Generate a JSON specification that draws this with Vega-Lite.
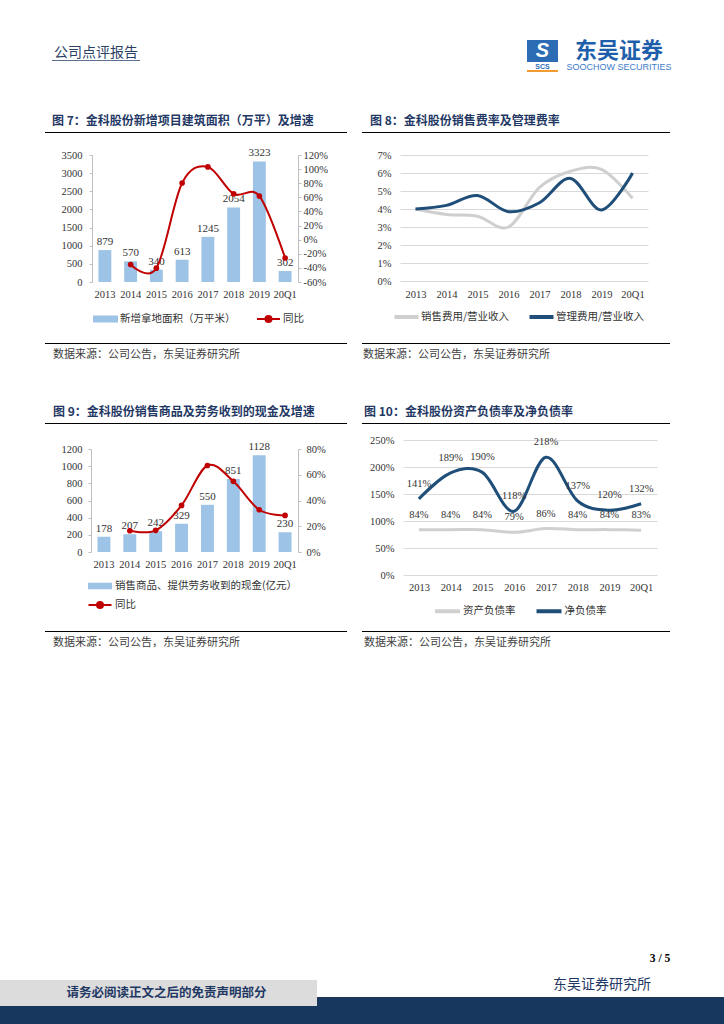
{
  "$schema": "https://vega.github.io/schema/vega-lite/v6.json",
  "background": "#FFFFFF",
  "padding": 0,
  "autosize": {"type": "pad"},
  "spacing": 0,
  "resolve": {"scale": {"color": "independent", "fill": "independent", "stroke": "independent"}},
  "config": {
    "view": {"stroke": null},
    "concat": {"spacing": 0},
    "font": "Liberation Serif, Noto Sans CJK SC",
    "axis": {"labelFont": "Liberation Serif, Noto Sans CJK SC", "labelFontSize": 10.5, "labelColor": "#333333", "tickColor": "#BFBFBF", "domainColor": "#BFBFBF", "gridColor": "#D9D9D9", "labelOverlap": false},
    "legend": {"labelFont": "Noto Sans CJK SC", "labelFontSize": 10.5, "labelColor": "#333333", "labelLimit": 400, "symbolOpacity": 1}
  },
  "vconcat": [
    {"width": 724, "height": 40, "view": {"fill": "#FFFFFF"}, "data": {"values": []}, "mark": "rule", "encoding": {}},
    {"spacing": 0, "hconcat": [
      {"width": 52, "height": 1, "data": {"values": []}, "mark": "rule", "encoding": {}},
      {"spacing": 0, "vconcat": [
        {"width": 88, "height": 5, "data": {"values": []}, "mark": "rule", "encoding": {}},
        {"width": 88, "height": 15, "data": {"values": [{"t": "公司点评报告"}]}, "mark": {"type": "text", "font": "Noto Sans CJK SC", "fontSize": 14, "color": "#2B3F66"}, "encoding": {"text": {"field": "t", "type": "nominal"}}},
        {"width": 88, "height": 1, "view": {"fill": "#5F6F8F"}, "data": {"values": []}, "mark": "rule", "encoding": {}}
      ]},
      {"width": 387, "height": 1, "data": {"values": []}, "mark": "rule", "encoding": {}},
      {"spacing": 0, "vconcat": [
        {"width": 31, "height": 22, "view": {"fill": "#2B6CB5"}, "data": {"values": [{"t": "S"}]}, "mark": {"type": "text", "font": "Liberation Sans", "fontSize": 20, "fontWeight": "bold", "fontStyle": "italic", "color": "#FFFFFF"}, "encoding": {"text": {"field": "t", "type": "nominal"}}},
        {"width": 31, "height": 7, "data": {"values": [{"t": "SCS"}]}, "mark": {"type": "text", "font": "Liberation Sans", "fontSize": 7, "fontWeight": "bold", "color": "#2B6CB5"}, "encoding": {"text": {"field": "t", "type": "nominal"}}},
        {"width": 31, "height": 2, "view": {"fill": "#F29B30"}, "data": {"values": []}, "mark": "rule", "encoding": {}}
      ]},
      {"width": 5, "height": 1, "data": {"values": []}, "mark": "rule", "encoding": {}},
      {"spacing": 0, "vconcat": [
        {"width": 112, "height": 22, "data": {"values": [{"t": "东吴证券"}]}, "mark": {"type": "text", "font": "Noto Sans CJK SC", "fontSize": 22, "fontWeight": "bold", "color": "#1E5EAA"}, "encoding": {"text": {"field": "t", "type": "nominal"}}},
        {"width": 112, "height": 10, "data": {"values": [{"t": "SOOCHOW SECURITIES"}]}, "mark": {"type": "text", "font": "Liberation Sans", "fontSize": 9, "color": "#3C7DC8"}, "encoding": {"text": {"field": "t", "type": "nominal"}}}
      ]}
    ]},
    {"width": 1, "height": 43, "data": {"values": []}, "mark": "rule", "encoding": {}},
    {"spacing": 0, "hconcat": [
      {"width": 45, "height": 1, "data": {"values": []}, "mark": "rule", "encoding": {}},
      {"width": 302, "height": 1, "view": {"fill": "#000000"}, "data": {"values": []}, "mark": "rule", "encoding": {},
       "title": {"text": "图 7：金科股份新增项目建筑面积（万平）及增速", "anchor": "start", "dx": 7, "offset": 4, "font": "Noto Sans CJK SC", "fontSize": 12, "fontWeight": "bold", "color": "#1F3864"}},
      {"width": 15, "height": 1, "data": {"values": []}, "mark": "rule", "encoding": {}},
      {"width": 308, "height": 1, "view": {"fill": "#000000"}, "data": {"values": []}, "mark": "rule", "encoding": {},
       "title": {"text": "图 8：金科股份销售费率及管理费率", "anchor": "start", "dx": 8, "offset": 4, "font": "Noto Sans CJK SC", "fontSize": 12, "fontWeight": "bold", "color": "#1F3864"}}
    ]},
    {"width": 1, "height": 14, "data": {"values": []}, "mark": "rule", "encoding": {}},
    {"spacing": 0,
     "resolve": {"scale": {"color": "independent", "fill": "independent", "stroke": "independent"}},
     "hconcat": [
      {"width": 52, "height": 1, "data": {"values": []}, "mark": "rule", "encoding": {}},
      {
        "width": 206, "height": 127,
        "data": {"values": [
          {"year": "2013", "area": 879},
          {"year": "2014", "area": 570, "yoy": -35.2},
          {"year": "2015", "area": 340, "yoy": -40.4},
          {"year": "2016", "area": 613, "yoy": 80.3},
          {"year": "2017", "area": 1245, "yoy": 103.1},
          {"year": "2018", "area": 2054, "yoy": 65.0},
          {"year": "2019", "area": 3323, "yoy": 61.8},
          {"year": "20Q1", "area": 302, "yoy": -26.0}
        ]},
        "encoding": {"x": {"field": "year", "type": "ordinal", "sort": null, "scale": {"type": "band", "paddingInner": 0.5, "paddingOuter": 0.25}, "axis": {"title": null, "labelAngle": 0, "ticks": false, "domain": false, "labelPadding": 7}}},
        "layer": [
          {"layer": [
            {"mark": {"type": "bar", "color": "#9DC3E6"},
             "encoding": {
               "y": {"field": "area", "type": "quantitative", "scale": {"domain": [0, 3500]}, "axis": {"title": null, "values": [0, 500, 1000, 1500, 2000, 2500, 3000, 3500], "tickCount": 20, "format": "d", "labelOverlap": false, "grid": false, "domain": true, "ticks": true, "tickSize": 3, "labelPadding": 7, "minExtent": 40}},
               "fill": {"datum": "新增拿地面积（万平米）", "type": "nominal", "scale": {"range": ["#9DC3E6"]}, "legend": {"orient": "none", "legendX": 3.5, "legendY": 154, "title": null, "symbolType": "M-1.25,-0.35H1.25V0.35H-1.25Z", "symbolSize": 400, "symbolStrokeWidth": 0, "labelOffset": 4.5}}
             }},
            {"mark": {"type": "text", "baseline": "bottom", "dy": -3, "fontSize": 11, "color": "#333333"},
             "encoding": {
               "y": {"field": "area", "type": "quantitative", "scale": {"domain": [0, 3500]}},
               "text": {"field": "area", "type": "quantitative", "format": "d"}
             }}
          ]},
          {"transform": [{"filter": "isValid(datum.yoy)"}],
           "layer": [
            {"mark": {"type": "line", "interpolate": "cardinal", "strokeWidth": 2},
             "encoding": {
               "y": {"field": "yoy", "type": "quantitative", "scale": {"domain": [-60, 120]}, "axis": {"title": null, "orient": "right", "values": [-60, -40, -20, 0, 20, 40, 60, 80, 100, 120], "tickCount": 20, "labelExpr": "datum.value + '%'", "labelOverlap": false, "grid": false, "domain": true, "ticks": true, "tickSize": 3, "labelPadding": 2, "minExtent": 40}},
               "stroke": {"datum": "同比", "type": "nominal", "scale": {"range": ["#C00000"]}, "legend": {"orient": "none", "legendX": 165.5, "legendY": 153, "title": null, "symbolType": "M-1.15,0H1.15M-0.3,0A0.3,0.3,0,1,1,0.3,0A0.3,0.3,0,1,1,-0.3,0Z", "symbolSize": 400, "symbolStrokeWidth": 2, "symbolFillColor": "#C00000", "labelOffset": 3.5}}
             }},
            {"mark": {"type": "point", "filled": true, "size": 32, "color": "#C00000", "opacity": 1},
             "encoding": {"y": {"field": "yoy", "type": "quantitative", "scale": {"domain": [-60, 120]}}}}
          ]}
        ],
        "resolve": {"scale": {"y": "independent"}}
      },
      {"width": 32, "height": 1, "data": {"values": []}, "mark": "rule", "encoding": {}},
      {
        "width": 248, "height": 126,
        "data": {"values": [
          {"year": "2013", "series": "销售费用/营业收入", "value": 0.040},
          {"year": "2014", "series": "销售费用/营业收入", "value": 0.037},
          {"year": "2015", "series": "销售费用/营业收入", "value": 0.036},
          {"year": "2016", "series": "销售费用/营业收入", "value": 0.030},
          {"year": "2017", "series": "销售费用/营业收入", "value": 0.052},
          {"year": "2018", "series": "销售费用/营业收入", "value": 0.061},
          {"year": "2019", "series": "销售费用/营业收入", "value": 0.062},
          {"year": "20Q1", "series": "销售费用/营业收入", "value": 0.046},
          {"year": "2013", "series": "管理费用/营业收入", "value": 0.040},
          {"year": "2014", "series": "管理费用/营业收入", "value": 0.042},
          {"year": "2015", "series": "管理费用/营业收入", "value": 0.0475},
          {"year": "2016", "series": "管理费用/营业收入", "value": 0.0385},
          {"year": "2017", "series": "管理费用/营业收入", "value": 0.0435},
          {"year": "2018", "series": "管理费用/营业收入", "value": 0.057},
          {"year": "2019", "series": "管理费用/营业收入", "value": 0.0395},
          {"year": "20Q1", "series": "管理费用/营业收入", "value": 0.060}
        ]},
        "mark": {"type": "line", "interpolate": "cardinal", "strokeWidth": 3},
        "encoding": {
          "x": {"field": "year", "type": "ordinal", "sort": null, "axis": {"title": null, "labelAngle": 0, "ticks": false, "domain": false, "labelPadding": 8}},
          "y": {"field": "value", "type": "quantitative", "scale": {"domain": [0, 0.07]}, "axis": {"title": null, "values": [0, 0.01, 0.02, 0.03, 0.04, 0.05, 0.06, 0.07], "tickCount": 20, "format": ".0%", "grid": true, "domain": false, "ticks": false, "labelPadding": 9, "minExtent": 30}},
          "color": {"field": "series", "type": "nominal", "sort": null, "scale": {"domain": ["销售费用/营业收入", "管理费用/营业收入"], "range": ["#CFCFCF", "#1F4E79"]}, "legend": {"orient": "none", "legendX": -7.5, "legendY": 148, "direction": "horizontal", "title": null, "symbolType": "stroke", "symbolSize": 576, "symbolStrokeWidth": 4, "labelOffset": 0.5, "columnPadding": 12}}
        }
      },
      {"width": 1, "height": 188, "data": {"values": []}, "mark": "rule", "encoding": {}}
    ]},
    {"spacing": 0, "hconcat": [
      {"width": 45, "height": 1, "data": {"values": []}, "mark": "rule", "encoding": {}},
      {"width": 302, "height": 1, "view": {"fill": "#000000"}, "data": {"values": []}, "mark": "rule", "encoding": {},
       "title": {"text": "数据来源：公司公告，东吴证券研究所", "orient": "bottom", "anchor": "start", "dx": 8, "offset": 5, "font": "Noto Sans CJK SC", "fontSize": 11, "fontWeight": "normal", "color": "#404040"}},
      {"width": 15, "height": 1, "data": {"values": []}, "mark": "rule", "encoding": {}},
      {"width": 308, "height": 1, "view": {"fill": "#000000"}, "data": {"values": []}, "mark": "rule", "encoding": {},
       "title": {"text": "数据来源：公司公告，东吴证券研究所", "orient": "bottom", "anchor": "start", "dx": 1, "offset": 5, "font": "Noto Sans CJK SC", "fontSize": 11, "fontWeight": "normal", "color": "#404040"}},
      {"width": 1, "height": 20, "data": {"values": []}, "mark": "rule", "encoding": {}}
    ]},
    {"width": 1, "height": 43, "data": {"values": []}, "mark": "rule", "encoding": {}},
    {"spacing": 0, "hconcat": [
      {"width": 45, "height": 1, "data": {"values": []}, "mark": "rule", "encoding": {}},
      {"width": 302, "height": 1, "view": {"fill": "#000000"}, "data": {"values": []}, "mark": "rule", "encoding": {},
       "title": {"text": "图 9：金科股份销售商品及劳务收到的现金及增速", "anchor": "start", "dx": 8, "offset": 4, "font": "Noto Sans CJK SC", "fontSize": 12, "fontWeight": "bold", "color": "#1F3864"}},
      {"width": 15, "height": 1, "data": {"values": []}, "mark": "rule", "encoding": {}},
      {"width": 308, "height": 1, "view": {"fill": "#000000"}, "data": {"values": []}, "mark": "rule", "encoding": {},
       "title": {"text": "图 10：金科股份资产负债率及净负债率", "anchor": "start", "dx": 2, "offset": 4, "font": "Noto Sans CJK SC", "fontSize": 12, "fontWeight": "bold", "color": "#1F3864"}}
    ]},
    {"width": 1, "height": 11, "data": {"values": []}, "mark": "rule", "encoding": {}},
    {"spacing": 0,
     "resolve": {"scale": {"color": "independent", "fill": "independent", "stroke": "independent"}},
     "hconcat": [
      {"width": 51, "height": 1, "data": {"values": []}, "mark": "rule", "encoding": {}},
      {"spacing": 0,
       "resolve": {"scale": {"color": "independent", "fill": "independent", "stroke": "independent"}},
       "vconcat": [
        {"width": 207, "height": 1, "data": {"values": []}, "mark": "rule", "encoding": {}},
        {
          "width": 207, "height": 103,
          "data": {"values": [
            {"year": "2013", "cash": 178},
            {"year": "2014", "cash": 207, "yoy": 16.5},
            {"year": "2015", "cash": 242, "yoy": 16.8},
            {"year": "2016", "cash": 329, "yoy": 36.2},
            {"year": "2017", "cash": 550, "yoy": 67.2},
            {"year": "2018", "cash": 851, "yoy": 54.9},
            {"year": "2019", "cash": 1128, "yoy": 32.8},
            {"year": "20Q1", "cash": 230, "yoy": 28.4}
          ]},
          "encoding": {"x": {"field": "year", "type": "ordinal", "sort": null, "scale": {"type": "band", "paddingInner": 0.5, "paddingOuter": 0.25}, "axis": {"title": null, "labelAngle": 0, "ticks": false, "domain": false, "labelPadding": 7}}},
          "layer": [
            {"layer": [
              {"mark": {"type": "bar", "color": "#9DC3E6"},
               "encoding": {
                 "y": {"field": "cash", "type": "quantitative", "scale": {"domain": [0, 1200]}, "axis": {"title": null, "values": [0, 200, 400, 600, 800, 1000, 1200], "tickCount": 20, "format": "d", "labelOverlap": false, "grid": false, "domain": true, "ticks": true, "tickSize": 3, "labelPadding": 6, "minExtent": 40}},
                 "fill": {"datum": "销售商品、提供劳务收到的现金(亿元）", "type": "nominal", "scale": {"range": ["#9DC3E6"]}, "legend": {"orient": "none", "legendX": -1, "legendY": 127, "title": null, "symbolType": "M-1.2,-0.33H1.2V0.33H-1.2Z", "symbolSize": 400, "symbolStrokeWidth": 0, "labelOffset": 5}}
               }},
              {"mark": {"type": "text", "baseline": "bottom", "dy": -3, "fontSize": 11, "color": "#333333"},
               "encoding": {
                 "y": {"field": "cash", "type": "quantitative", "scale": {"domain": [0, 1200]}},
                 "text": {"field": "cash", "type": "quantitative", "format": "d"}
               }}
            ]},
            {"transform": [{"filter": "isValid(datum.yoy)"}],
             "layer": [
              {"mark": {"type": "line", "interpolate": "cardinal", "strokeWidth": 2},
               "encoding": {
                 "y": {"field": "yoy", "type": "quantitative", "scale": {"domain": [0, 80]}, "axis": {"title": null, "orient": "right", "values": [0, 20, 40, 60, 80], "tickCount": 20, "labelExpr": "datum.value + '%'", "labelOverlap": false, "grid": false, "domain": true, "ticks": true, "tickSize": 3, "labelPadding": 5, "minExtent": 40}},
                 "stroke": {"datum": "同比", "type": "nominal", "scale": {"range": ["#C00000"]}, "legend": {"orient": "none", "legendX": -2, "legendY": 145, "title": null, "symbolType": "M-1.15,0H1.15M-0.3,0A0.3,0.3,0,1,1,0.3,0A0.3,0.3,0,1,1,-0.3,0Z", "symbolSize": 400, "symbolStrokeWidth": 2, "symbolFillColor": "#C00000", "labelOffset": 4}}
               }},
              {"mark": {"type": "point", "filled": true, "size": 32, "color": "#C00000", "opacity": 1},
               "encoding": {"y": {"field": "yoy", "type": "quantitative", "scale": {"domain": [0, 80]}}}}
            ]}
          ],
          "resolve": {"scale": {"y": "independent"}}
        }
      ]},
      {"width": 29, "height": 1, "data": {"values": []}, "mark": "rule", "encoding": {}},
      {
        "width": 254, "height": 135,
        "data": {"values": [
          {"year": "2013", "series": "资产负债率", "value": 0.84},
          {"year": "2014", "series": "资产负债率", "value": 0.84},
          {"year": "2015", "series": "资产负债率", "value": 0.84},
          {"year": "2016", "series": "资产负债率", "value": 0.79},
          {"year": "2017", "series": "资产负债率", "value": 0.86},
          {"year": "2018", "series": "资产负债率", "value": 0.84},
          {"year": "2019", "series": "资产负债率", "value": 0.84},
          {"year": "20Q1", "series": "资产负债率", "value": 0.83},
          {"year": "2013", "series": "净负债率", "value": 1.41},
          {"year": "2014", "series": "净负债率", "value": 1.89},
          {"year": "2015", "series": "净负债率", "value": 1.90},
          {"year": "2016", "series": "净负债率", "value": 1.18},
          {"year": "2017", "series": "净负债率", "value": 2.18},
          {"year": "2018", "series": "净负债率", "value": 1.37},
          {"year": "2019", "series": "净负债率", "value": 1.20},
          {"year": "20Q1", "series": "净负债率", "value": 1.32}
        ]},
        "encoding": {
          "x": {"field": "year", "type": "ordinal", "sort": null, "axis": {"title": null, "labelAngle": 0, "ticks": false, "domain": false, "labelPadding": 7.5}},
          "y": {"field": "value", "type": "quantitative", "scale": {"domain": [0, 2.5]}, "axis": {"title": null, "values": [0, 0.5, 1, 1.5, 2, 2.5], "tickCount": 20, "format": ".0%", "grid": true, "domain": false, "ticks": false, "labelPadding": 9, "minExtent": 36}}
        },
        "layer": [
          {"mark": {"type": "line", "interpolate": "cardinal", "strokeWidth": 3},
           "encoding": {
             "color": {"field": "series", "type": "nominal", "sort": null, "scale": {"domain": ["资产负债率", "净负债率"], "range": ["#D0D0D0", "#1F4E79"]}, "legend": {"orient": "none", "legendX": 30, "legendY": 156.5, "direction": "horizontal", "title": null, "symbolType": "stroke", "symbolSize": 625, "symbolStrokeWidth": 4, "labelOffset": 1, "columnPadding": 12.5}}
           }},
          {"mark": {"type": "text", "dy": -15, "fontSize": 10.5, "color": "#333333"},
           "encoding": {"text": {"field": "value", "type": "quantitative", "format": ".0%"}}}
        ]
      },
      {"width": 1, "height": 191, "data": {"values": []}, "mark": "rule", "encoding": {}}
    ]},
    {"spacing": 0, "hconcat": [
      {"width": 45, "height": 1, "data": {"values": []}, "mark": "rule", "encoding": {}},
      {"width": 302, "height": 1, "view": {"fill": "#000000"}, "data": {"values": []}, "mark": "rule", "encoding": {},
       "title": {"text": "数据来源：公司公告，东吴证券研究所", "orient": "bottom", "anchor": "start", "dx": 8, "offset": 5, "font": "Noto Sans CJK SC", "fontSize": 11, "fontWeight": "normal", "color": "#404040"}},
      {"width": 15, "height": 1, "data": {"values": []}, "mark": "rule", "encoding": {}},
      {"width": 308, "height": 1, "view": {"fill": "#000000"}, "data": {"values": []}, "mark": "rule", "encoding": {},
       "title": {"text": "数据来源：公司公告，东吴证券研究所", "orient": "bottom", "anchor": "start", "dx": 2, "offset": 5, "font": "Noto Sans CJK SC", "fontSize": 11, "fontWeight": "normal", "color": "#404040"}},
      {"width": 1, "height": 20, "data": {"values": []}, "mark": "rule", "encoding": {}}
    ]},
    {"width": 1, "height": 300, "data": {"values": []}, "mark": "rule", "encoding": {}},
    {"spacing": 0, "hconcat": [
      {"width": 648, "height": 16, "data": {"values": []}, "mark": "rule", "encoding": {}},
      {"width": 24, "height": 16, "data": {"values": [{"t": "3 / 5"}]}, "mark": {"type": "text", "font": "Liberation Serif", "fontSize": 11.5, "fontWeight": "bold", "color": "#000000"}, "encoding": {"text": {"field": "t", "type": "nominal"}}}
    ]},
    {"width": 1, "height": 6, "data": {"values": []}, "mark": "rule", "encoding": {}},
    {"spacing": 0, "hconcat": [
      {"spacing": 0, "vconcat": [
        {"width": 317, "height": 7, "data": {"values": []}, "mark": "rule", "encoding": {}},
        {"spacing": 0, "hconcat": [
          {"width": 16, "height": 26, "view": {"fill": "#DCDCDC"}, "data": {"values": []}, "mark": "rule", "encoding": {}},
          {"width": 301, "height": 26, "view": {"fill": "#DCDCDC"}, "data": {"values": [{"t": "请务必阅读正文之后的免责声明部分"}]}, "mark": {"type": "text", "font": "Noto Sans CJK SC", "fontSize": 12.5, "fontWeight": "bold", "color": "#1F3864"}, "encoding": {"text": {"field": "t", "type": "nominal"}}}
        ]}
      ]},
      {"spacing": 0, "vconcat": [
        {"spacing": 0, "hconcat": [
          {"width": 235, "height": 24, "data": {"values": []}, "mark": "rule", "encoding": {}},
          {"width": 100, "height": 24, "data": {"values": [{"t": "东吴证券研究所"}]}, "mark": {"type": "text", "font": "Noto Sans CJK SC", "fontSize": 14, "color": "#1F3864"}, "encoding": {"text": {"field": "t", "type": "nominal"}}},
          {"width": 72, "height": 24, "data": {"values": []}, "mark": "rule", "encoding": {}}
        ]},
        {"width": 407, "height": 9, "view": {"fill": "#17375E"}, "data": {"values": []}, "mark": "rule", "encoding": {}}
      ]}
    ]},
    {"width": 724, "height": 19, "view": {"fill": "#17375E"}, "data": {"values": []}, "mark": "rule", "encoding": {}}
  ]
}
